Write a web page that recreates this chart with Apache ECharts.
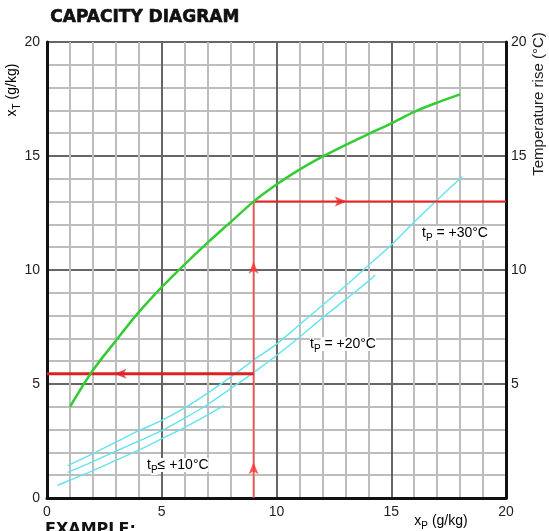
<!DOCTYPE html>
<html>
<head>
<meta charset="utf-8">
<script src="https://cdn.jsdelivr.net/npm/echarts@6/dist/echarts.min.js"></script>
<style>html,body{margin:0;padding:0;background:#fff;}#c{width:549px;height:531px;}</style>
</head>
<body>
<div id="c"></div>
<script>
// ---- data ----
const xTicks = [0, 5, 10, 15, 20];
const yTicksRight = [5, 10, 15, 20];
// capacity curve (green): x_P -> x_T
const capacityX = [1, 2, 3, 4, 5, 6, 7, 8, 9, 10, 11, 12, 13, 14, 15, 16, 17, 18];
const capacityY = [4.0, 5.6, 6.9, 8.15, 9.25, 10.25, 11.2, 12.1, 13.0, 13.75, 14.4, 14.97, 15.48, 15.96, 16.43, 16.94, 17.34, 17.7];
// temperature rise curves (cyan)
const t30X = [0.9, 2, 3, 4, 5, 6, 7, 8, 9, 10, 11, 12, 13, 14, 15, 16, 17, 18.1];
const t30Y = [1.42, 1.95, 2.45, 2.95, 3.4, 3.95, 4.6, 5.3, 6.05, 6.75, 7.6, 8.45, 9.3, 10.2, 11.1, 12.1, 13.07, 14.1];
const t20X = [0.9, 2, 3, 4, 5, 6, 7, 8, 9, 10, 11, 12, 13, 14, 14.3];
const t20Y = [1.12, 1.6, 2.05, 2.5, 2.95, 3.5, 4.1, 4.8, 5.5, 6.25, 7.05, 7.9, 8.7, 9.5, 9.78];
const t10X = [0.45, 1, 2, 3, 4, 5, 6, 7, 7.7];
const t10Y = [0.55, 0.78, 1.2, 1.65, 2.1, 2.6, 3.1, 3.65, 4.05];
// example (red)
const exampleXP = 9;
const exampleXT = 13;
const exampleRight = 20;
const exampleLeftY = 5.45;
const arrowsUp = [[9, 1.3], [9, 10.1]];
const arrowsRight = [[12.8, 13]];
const arrowsLeft = [[3.2, 5.45]];
const curveLabels = [
  {x: 422, y: 233, sub: 'P', rest: ' = +30°C'},
  {x: 310, y: 344, sub: 'P', rest: ' = +20°C'},
  {x: 147, y: 465, sub: 'P', rest: '≤ +10°C'}
];

const zip = (xs, ys) => xs.map((x, i) => [x, ys[i]]);

const chart = echarts.init(document.getElementById('c'), null, {renderer: 'canvas'});
const F = 'Liberation Sans, Arial, sans-serif';
const arrowPath = 'path://M0,0 L12,5 L0,10 L3,5 Z';

const richAxis = {
  a: {fontFamily: F, fontSize: 14, color: '#222', lineHeight: 20},
  s: {fontFamily: F, fontSize: 10, color: '#222', lineHeight: 20, verticalAlign: 'bottom'}
};

const graphics = [
  {type: 'text', left: 50, top: 9, style: {text: 'CAPACITY DIAGRAM', fontFamily: 'DejaVu Sans', fontWeight: 'bold', fontSize: 17, fill: '#111', stroke: '#111', lineWidth: 0.6}},
  {type: 'text', left: 45, top: 522, style: {text: 'EXAMPLE:', fontFamily: 'DejaVu Sans', fontWeight: 'bold', fontSize: 16, fill: '#111'}},
  {type: 'text', x: 12, y: 90, rotation: Math.PI / 2, style: {text: '{a|x}{s|T}{a| (g/kg)}', rich: richAxis, align: 'center', verticalAlign: 'middle'}},
  {type: 'text', x: 539, y: 104, rotation: Math.PI / 2, style: {text: 'Temperature rise (°C)', fontFamily: F, fontSize: 15, fill: '#222', align: 'center', verticalAlign: 'middle'}},
  {type: 'text', x: 441, y: 521, style: {text: '{a|x}{s|P}{a| (g/kg)}', rich: richAxis, align: 'center', verticalAlign: 'middle'}}
];
curveLabels.forEach(l => {
  graphics.push({type: 'text', x: l.x, y: l.y, z: 20, style: {
    text: '{b|t}{t|' + l.sub + '}{b|' + l.rest + '}',
    rich: {
      b: {fontFamily: F, fontSize: 14, color: '#222', lineHeight: 20, backgroundColor: '#fff'},
      t: {fontFamily: F, fontSize: 10, color: '#222', lineHeight: 20, verticalAlign: 'bottom', backgroundColor: '#fff'}
    },
    align: 'left', verticalAlign: 'middle'}});
});

const option = {
  animation: false,
  backgroundColor: '#fff',
  grid: {left: 47, right: 43, top: 42, bottom: 33},
  xAxis: {
    type: 'value', min: 0, max: 20, interval: 5,
    axisLine: {show: true, onZero: false, lineStyle: {color: '#111', width: 3}},
    axisTick: {show: false},
    axisLabel: {fontFamily: F, fontSize: 14, color: '#222', margin: 7},
    splitLine: {show: true, lineStyle: {color: '#666', width: 2}},
    minorTick: {show: false, splitNumber: 5},
    minorSplitLine: {show: true, lineStyle: {color: '#bdbdbd', width: 2}}
  },
  yAxis: [
    {
      type: 'value', min: 0, max: 20, interval: 5, position: 'left',
      axisLine: {show: true, onZero: false, lineStyle: {color: '#111', width: 3}},
      axisTick: {show: false},
      axisLabel: {fontFamily: F, fontSize: 14, color: '#222', margin: 7},
      splitLine: {show: true, lineStyle: {color: '#666', width: 2}},
      minorTick: {show: false, splitNumber: 5},
      minorSplitLine: {show: true, lineStyle: {color: '#bdbdbd', width: 2}}
    },
    {
      type: 'value', min: 0, max: 20, interval: 5, position: 'right',
      axisLine: {show: true, onZero: false, lineStyle: {color: '#111', width: 3}},
      axisTick: {show: false},
      axisLabel: {fontFamily: F, fontSize: 14, color: '#222', margin: 5,
        formatter: v => (yTicksRight.indexOf(v) >= 0 ? String(v) : '')},
      splitLine: {show: false}
    }
  ],
  graphic: graphics,
  series: [
    {type: 'line', data: zip(t10X, t10Y), smooth: 0.3, symbol: 'none', lineStyle: {color: '#62e4ee', width: 1.4}, z: 3},
    {type: 'line', data: zip(t20X, t20Y), smooth: 0.3, symbol: 'none', lineStyle: {color: '#62e4ee', width: 1.4}, z: 3},
    {type: 'line', data: zip(t30X, t30Y), smooth: 0.3, symbol: 'none', lineStyle: {color: '#62e4ee', width: 1.4}, z: 3},
    {type: 'line', data: [[exampleXP, 0], [exampleXP, exampleXT]], symbol: 'none', lineStyle: {color: '#ff4a4a', width: 1.6}, z: 4},
    {type: 'line', data: [[exampleXP, exampleXT], [exampleRight, exampleXT]], symbol: 'none', lineStyle: {color: '#f02020', width: 2}, z: 4},
    {type: 'line', data: [[exampleXP, exampleLeftY], [0, exampleLeftY]], symbol: 'none', lineStyle: {color: '#e02020', width: 3}, z: 4},
    {type: 'line', data: zip(capacityX, capacityY), smooth: 0.3, symbol: 'none', lineStyle: {color: '#33cc33', width: 2.5}, z: 5},
    {type: 'scatter', data: arrowsUp, symbol: arrowPath, symbolSize: [12, 10], symbolRotate: 90, itemStyle: {color: '#ff3030'}, z: 6},
    {type: 'scatter', data: arrowsRight, symbol: arrowPath, symbolSize: [12, 10], symbolRotate: 0, itemStyle: {color: '#f02020'}, z: 6},
    {type: 'scatter', data: arrowsLeft, symbol: arrowPath, symbolSize: [12, 10], symbolRotate: 180, itemStyle: {color: '#e02020'}, z: 6}
  ]
};
chart.setOption(option);
</script>
</body>
</html>
